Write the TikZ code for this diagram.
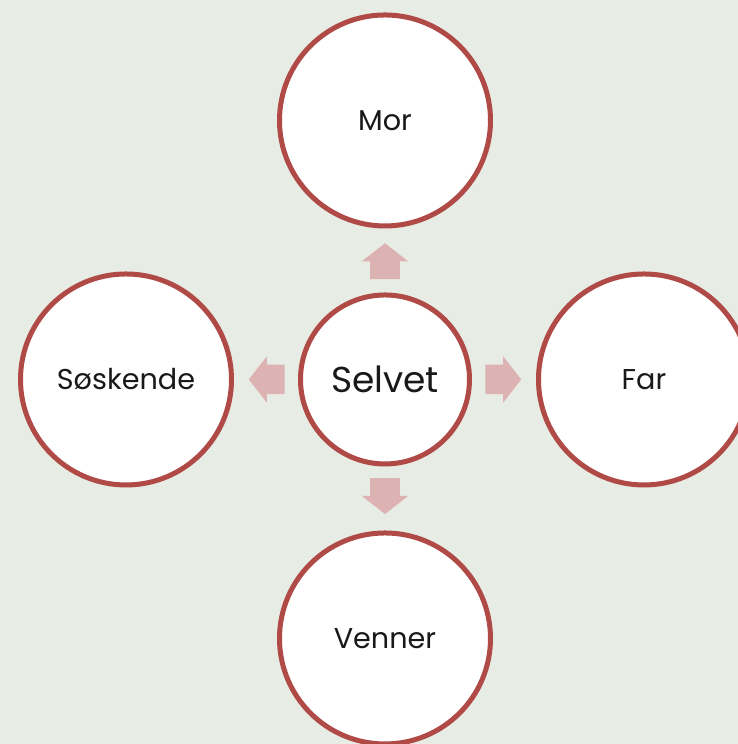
\documentclass[tikz,border=0pt]{standalone}
\usepackage{fontspec}
\setmainfont{Poppins}
\usetikzlibrary{positioning, shapes.arrows, calc}
\definecolor{paper}{RGB}{231, 236, 228}
\definecolor{ringred}{RGB}{176, 74, 71}
\definecolor{arrowpink}{RGB}{221, 178, 178}

\begin{document}
\begin{tikzpicture}[
    node distance=48pt,
    person/.style={
        circle,
        draw=ringred,
        line width=3.75pt,
        fill=white,
        minimum size=158.25pt,
        inner sep=0pt,
        align=center,
        text=black!90,
        font=\fontsize{21.5}{25}\selectfont
    },
    self/.style={
        person,
        minimum size=126.75pt,
        font=\fontsize{27}{31}\selectfont
    },
    blockarrow/.style={
        single arrow,
        fill=arrowpink,
        draw=none,
        inner xsep=0pt,
        inner ysep=10.875pt,
        minimum height=27pt,
        single arrow head extend=6.375pt,
        single arrow tip angle=104,
        anchor=tail
    }
]

% background and page size
\fill[paper] (-288.75pt,-273.4pt) rectangle (264.75pt,284.6pt);
\useasboundingbox (-288.75pt,-273.4pt) rectangle (264.75pt,284.6pt);
\clip (-288.75pt,-273.4pt) rectangle (264.75pt,284.6pt);

\node[self] (selvet) at (0,0) {Selvet};
\node[person, above=of selvet] (mor) {Mor};
\node[person, right=of selvet] (far) {Far};
\node[person, below=of selvet] (venner) {Venner};
\node[person, left=of selvet] (soskende) {Søskende};

% arrows pointing out from the centre
\node[blockarrow, rotate=90] (tomor) at ($(selvet.north)+(0,9.75pt)$) {};
\node[blockarrow] (tofar) at ($(selvet.east)+(9.75pt,0)$) {};
\node[blockarrow, rotate=-90] (tovenner) at ($(selvet.south)+(0,-8.5pt)$) {};
\node[blockarrow, rotate=180] (tososkende) at ($(selvet.west)+(-9.75pt,0)$) {};

\end{tikzpicture}
\end{document}
